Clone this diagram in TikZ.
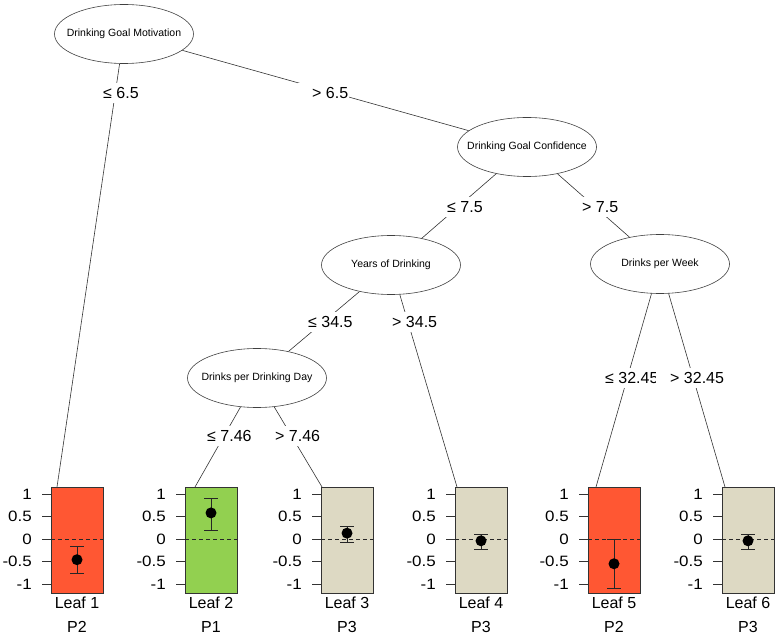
\documentclass[tikz,border=0pt]{standalone}
\usepackage{fontspec}
\setmainfont{Liberation Sans}
\newfontfamily\tickfont[FakeStretch=1.13]{Liberation Sans}
\usetikzlibrary{shapes.geometric}
\definecolor{leafred}{RGB}{255,87,51}
\definecolor{leafgreen}{RGB}{146,208,80}
\definecolor{leafbeige}{RGB}{221,217,195}
\newcommand{\padlab}[1]{\hspace*{13pt}#1}
\begin{document}
\begin{tikzpicture}[x=1pt,y=-1pt,
  split/.style={ellipse, draw=black!75, line width=0.6pt, minimum width=139pt, minimum height=59pt, inner sep=0pt, font=\fontsize{10.5}{12}\selectfont},
  edge/.style={draw=black!80, line width=0.6pt},
  elabel/.style={fill=white, anchor=west, inner xsep=1pt, inner ysep=4pt, font=\fontsize{16}{18}\selectfont},
  leafbox/.style={draw=black!80, line width=0.7pt, minimum width=52pt, minimum height=106pt, inner sep=0pt, anchor=north west},
  axtick/.style={draw=black!80, line width=0.7pt},
  ticklabel/.style={anchor=east, inner sep=0pt, font=\tickfont\fontsize{15}{17}\selectfont},
  leaflabel/.style={inner sep=0pt, font=\fontsize{16}{18}\selectfont},
  zeroline/.style={draw=black!85, line width=0.7pt, dash pattern=on 4pt off 3pt},
  cibar/.style={draw=black!85, line width=0.7pt},
]
\useasboundingbox (0,0) rectangle (776,636);

% inner nodes
\node[split] (m) at (124,34) {\makebox[0pt]{Drinking Goal Motivation}};
\node[split] (c) at (527,147) {\makebox[0pt]{Drinking Goal Confidence}};
\node[split] (y) at (391,265) {\makebox[0pt]{Years of Drinking}};
\node[split] (w) at (660,264) {\makebox[0pt]{Drinks per Week}};
\node[split] (d) at (257,378) {\makebox[0pt]{Drinks per Drinking Day}};

% leaf panels
\foreach \L/\col/\mn/\lo/\hi/\pp [count=\i] in {
  51/leafred/-0.46/-0.76/-0.17/P2,
  185/leafgreen/0.58/0.20/0.91/P1,
  321/leafbeige/0.13/-0.08/0.29/P3,
  455/leafbeige/-0.04/-0.24/0.11/P3,
  588/leafred/-0.55/-1.09/0.0/P2,
  722/leafbeige/-0.04/-0.23/0.11/P3}{
  \node[leafbox, fill=\col] (leaf\i) at (\L,487) {};
  \foreach \v [count=\j] in {1,0.5,0,-0.5,-1}{
    \draw[axtick] (\L-9,{539-45*(\v)}) -- (\L,{539-45*(\v)});
    \node[ticklabel] (tl\i-\j) at (\L-19,{539-45*(\v)}) {\v};
  }
  \draw[zeroline] (\L,539) -- (\L+52,539);
  \draw[cibar] (\L+26,{539-45*(\lo)}) -- (\L+26,{539-45*(\hi)});
  \draw[cibar] (\L+19,{539-45*(\lo)}) -- (\L+33,{539-45*(\lo)});
  \draw[cibar] (\L+19,{539-45*(\hi)}) -- (\L+33,{539-45*(\hi)});
  \fill[black] (\L+26,{539-45*(\mn)}) circle (5.5pt);
  \node[leaflabel] (name\i) at (\L+26,603) {Leaf \i};
  \node[leaflabel] (prof\i) at (\L+26,627) {\pp};
}

% edge end points on leaf tops
\coordinate (t1) at (57,487);
\coordinate (t2) at (195,487);
\coordinate (t3) at (322,487);
\coordinate (t4) at (457,487);
\coordinate (t5) at (596,487);
\coordinate (t6) at (725,487);

% edges
\draw[edge] (m) -- (t1);
\draw[edge] (m) -- (c);
\draw[edge] (c) -- (y);
\draw[edge] (c) -- (w);
\draw[edge] (y) -- (d);
\draw[edge] (y) -- (t4);
\draw[edge] (d) -- (t2);
\draw[edge] (d) -- (t3);
\draw[edge] (w) -- (t5);
\draw[edge] (w) -- (t6);

% edge labels (anchored 14pt left of the text start)
\node[elabel] (e1) at (89,93) {\padlab{≤ 6.5}};
\node[elabel] (e2) at (298,93) {\padlab{> 6.5}};
\node[elabel] (e3) at (433,207) {\padlab{≤ 7.5}};
\node[elabel] (e4) at (568,207) {\padlab{> 7.5}};
\node[elabel] (e5) at (294,322) {\padlab{≤ 34.5}};
\node[elabel] (e6) at (378,322) {\padlab{> 34.5}};
\node[elabel] (e7) at (193,436) {\padlab{≤ 7.46}};
\node[elabel] (e8) at (261,436) {\padlab{> 7.46}};
\node[elabel] (e9) at (591,378) {\padlab{≤ 32.45}};
\node[elabel] (e10) at (656,378) {\padlab{> 32.45}};
\end{tikzpicture}
\end{document}
